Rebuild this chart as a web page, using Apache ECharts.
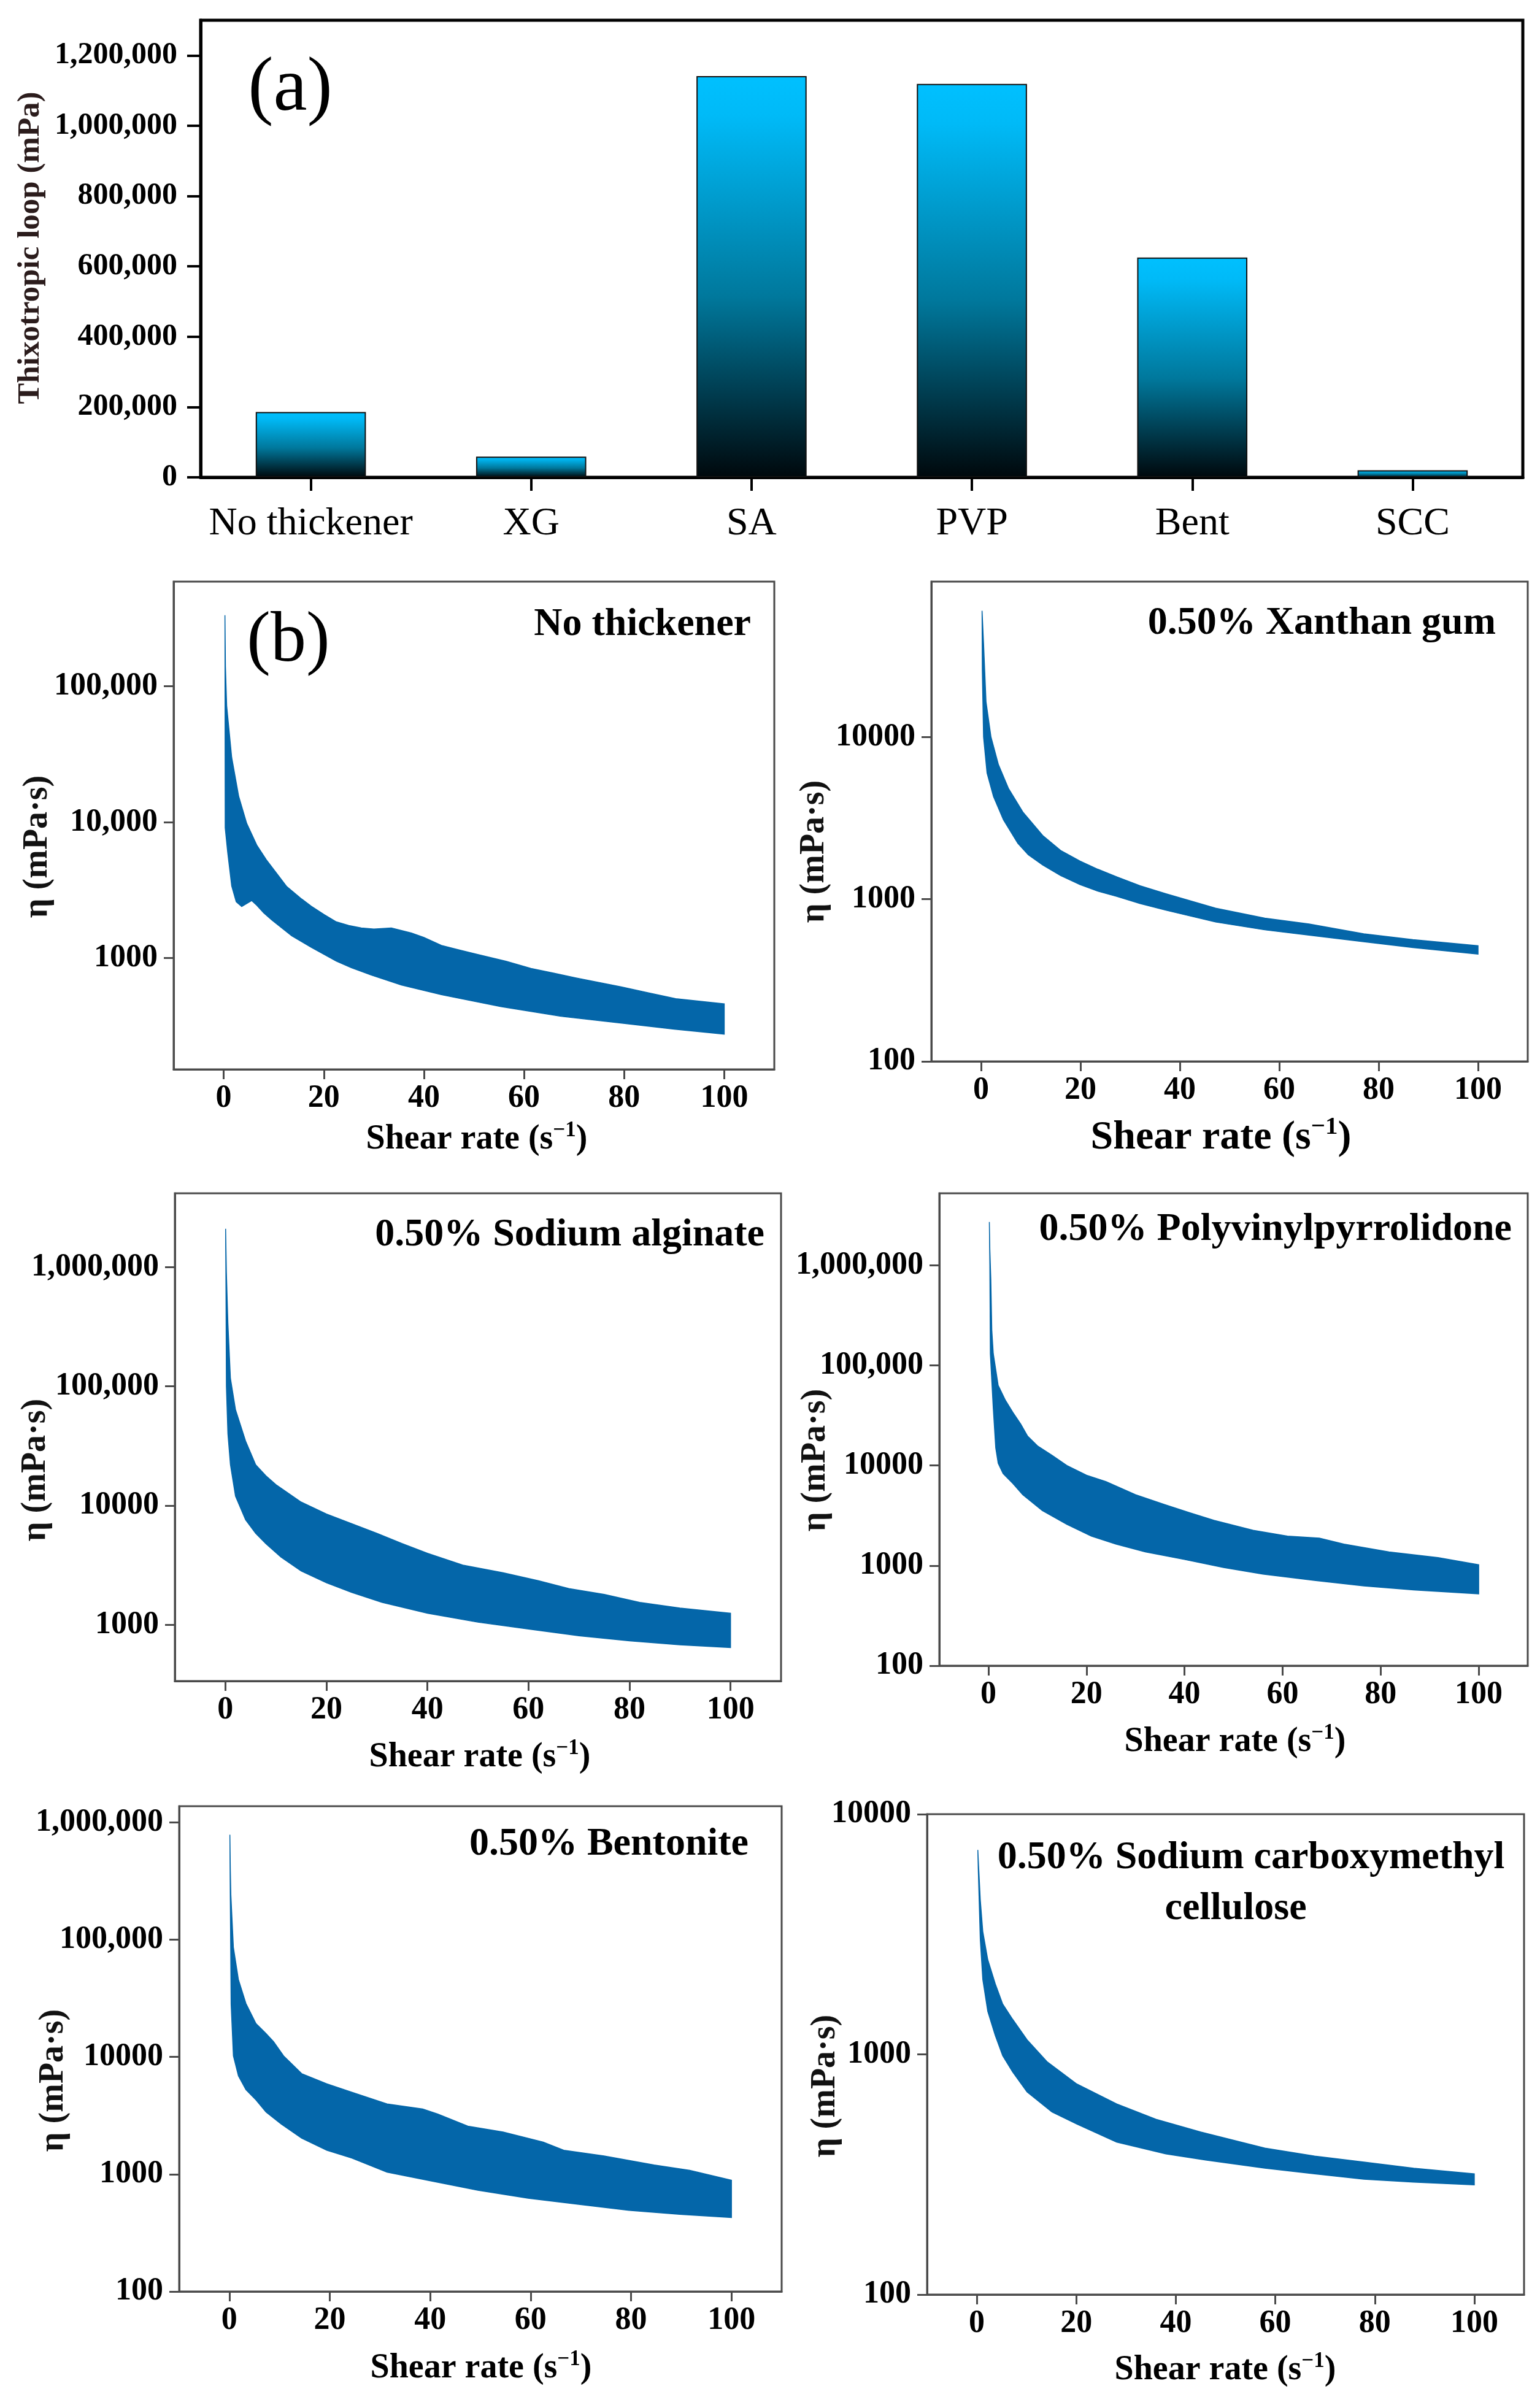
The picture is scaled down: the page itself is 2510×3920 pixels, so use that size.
<!DOCTYPE html>
<html>
<head>
<meta charset="utf-8">
<script src="https://cdn.jsdelivr.net/npm/echarts@6/dist/echarts.min.js"></script>
<style>
html,body{margin:0;padding:0;background:#fff;}
#chart{width:2510px;height:3920px;}
</style>
</head>
<body>
<div id="chart"></div>
<script>
// ---------------- DATA ----------------
// Panel (a): thixotropic loop area
const categories = ['No thickener', 'XG', 'SA', 'PVP', 'Bent', 'SCC'];
const loopValues = [186000, 59000, 1141000, 1119000, 625000, 20000];
const loopTicks = [0, 200000, 400000, 600000, 800000, 1000000, 1200000];

// Panel (b): shear rate ticks
const shearTicks = [0, 20, 40, 60, 80, 100];

// No thickener: upward curve [shear rate, eta] and downward curve (from 100 back to 0)
const noThickUp = [[0.25,333000],[0.35,140000],[0.6,72000],[1.6,30000],[3,15500],[4.6,9800],[6.6,6800],[8.5,5300],[10.6,4200],[12.6,3360],[15.6,2720],[17.5,2410],[20,2100],[22.5,1850],[25,1740],[27.5,1670],[30,1640],[33.5,1670],[37.5,1530],[40,1420],[43.5,1240],[47,1150],[50.5,1070],[56.4,950],[61.4,840],[66,775],[70.4,716],[79.4,615],[85,555],[90.3,503],[100,461]];
const noThickDown = [[100,276],[90,300],[80.4,330],[67.4,373],[55.4,440],[43.5,538],[35.5,635],[29.5,750],[25.5,850],[22.5,950],[17.5,1200],[13.6,1460],[11.6,1670],[9.6,1910],[8,2150],[6.6,2450],[5.6,2650],[3.6,2400],[2.5,2600],[1.6,3400],[0.8,6000],[0.3,9100]];
const noThickTicks = [1000, 10000, 100000];
const noThickTickLabels = ['1000', '10,000', '100,000'];

// 0.50% Xanthan gum
const xgUp = [[0.2,60000],[0.5,38000],[1,16500],[2,10000],[3.5,6750],[5.5,4830],[8.4,3450],[12.4,2470],[16,2000],[19.9,1720],[23.5,1530],[27.3,1375],[32,1210],[37.2,1080],[47.2,880],[57.1,765],[66,703],[77,612],[86.9,563],[100,517]];
const xgDown = [[100,458],[86.9,503],[77,547],[67,595],[57.1,647],[47.2,723],[37.2,855],[32,940],[27.3,1040],[23.5,1120],[19.9,1230],[16,1400],[12.4,1625],[9.5,1880],[7.4,2210],[4.5,3090],[2.5,4300],[1.2,6000],[0.5,10000],[0.25,25700]];
const xgTicks = [100, 1000, 10000];
const xgTickLabels = ['100', '1000', '10000'];

// 0.50% Sodium alginate
const saUp = [[0.05,2100000],[0.2,910000],[0.5,340000],[1,117000],[2,64000],[4,34800],[6,22000],[8,17800],[10,15000],[15,10700],[20,8500],[25,7050],[30,5850],[35,4800],[40,3980],[47,3170],[55,2730],[62,2340],[68,2010],[75,1800],[82,1540],[90,1380],[100,1250]];
const saDown = [[100,644],[90,678],[80,732],[70,808],[60,920],[50,1050],[40,1250],[31,1540],[25,1870],[20,2250],[15,2830],[11,3700],[8,4800],[6,5850],[4,7600],[2,12000],[1,22000],[0.5,40000],[0.2,100000],[0.12,600000]];
const saTicks = [1000, 10000, 100000, 1000000];
const saTickLabels = ['1000', '10000', '100,000', '1,000,000'];

// 0.50% Polyvinylpyrrolidone
const pvpUp = [[0.2,2700000],[0.3,1440000],[0.5,725000],[0.7,225000],[1,131000],[2,63000],[3.5,44500],[5,33800],[6.6,25900],[8,19600],[10,15700],[13,12600],[16,10000],[20,8000],[24,6900],[30,5100],[36,4060],[41,3380],[46,2830],[54,2250],[61,1970],[67.5,1880],[72.5,1640],[81.7,1370],[91.7,1200],[100,1020]];
const pvpDown = [[100,522],[86.7,571],[76.6,625],[66.5,710],[56,820],[48,956],[40,1150],[32,1370],[26,1640],[21,1970],[16,2580],[11,3540],[7,5100],[5,6600],[3,8300],[2,10500],[1.5,15000],[1,37000],[0.4,130000],[0.3,1000000]];
const pvpTicks = [100, 1000, 10000, 100000, 1000000];
const pvpTickLabels = ['100', '1000', '10000', '100,000', '1,000,000'];

// 0.50% Bentonite
const bentUp = [[0.1,783000],[0.2,385000],[0.3,240000],[0.8,86000],[1.8,45700],[3.3,28500],[5.3,19200],[7.3,15800],[8.8,13500],[10.8,10200],[14.4,7200],[19.4,5900],[24.4,5000],[31.4,3970],[38.5,3600],[41.5,3260],[47.5,2570],[54.5,2290],[62.5,1880],[66.6,1600],[74.6,1430],[84.6,1200],[91.7,1080],[100,888]];
const bentDown = [[100,427],[89.7,454],[79.6,492],[69.6,553],[59.5,624],[49.5,730],[39.5,888],[31.4,1040],[24.4,1370],[19.4,1600],[14.4,2030],[10.3,2680],[7.3,3390],[5.3,4300],[3.3,5250],[1.8,6900],[0.8,10200],[0.35,28000],[0.15,350000]];
const bentTicks = [100, 1000, 10000, 100000, 1000000];
const bentTickLabels = ['100', '1000', '10000', '100,000', '1,000,000'];

// 0.50% Sodium carboxymethyl cellulose
const sccUp = [[0.2,7100],[0.7,4400],[1.2,3250],[2.2,2480],[3.7,1970],[5.2,1620],[7.2,1400],[10.1,1150],[14.1,933],[20.1,753],[28.1,622],[36,537],[45,475],[57.9,407],[67.9,377],[77.8,356],[87.8,336],[100,318]];
const sccDown = [[100,286],[87.8,294],[77.8,302],[67.9,318],[57.9,336],[46,363],[38,385],[28.1,431],[20.1,513],[15.1,576],[10.1,698],[7.2,845],[5.2,987],[3.7,1200],[2.2,1510],[1.2,2050],[0.7,3000],[0.3,5800]];
const sccTicks = [100, 1000, 10000];
const sccTickLabels = ['100', '1000', '10000'];

// ---------------- STYLE / LAYOUT ----------------
const SERIF = '"Liberation Serif","Times New Roman",Times,serif';
const BAND = '#0466A9';
const FRAME = '#4a4a4a';

const panels = [
  {up: noThickUp, down: noThickDown, ticks: noThickTicks, labels: noThickTickLabels, min: 152, max: 589000,
   grid: {left: 283, top: 948, width: 979, height: 795}, title: 'No thickener', tx: 1224, ty: 1018,
   yname: [62, 1380], xname: [777, 1858], xfs: 56},
  {up: xgUp, down: xgDown, ticks: xgTicks, labels: xgTickLabels, min: 100, max: 90800,
   grid: {left: 1518, top: 948, width: 972, height: 782}, title: '0.50% Xanthan gum', tx: 2438, ty: 1016,
   yname: [1328, 1388], xname: [1990, 1855], xfs: 66},
  {up: saUp, down: saDown, ticks: saTicks, labels: saTickLabels, min: 337, max: 4170000,
   grid: {left: 285, top: 1945, width: 988, height: 795}, title: '0.50% Sodium alginate', tx: 1246, ty: 2013,
   yname: [59, 2396], xname: [782, 2865], xfs: 56},
  {up: pvpUp, down: pvpDown, ticks: pvpTicks, labels: pvpTickLabels, min: 100, max: 5220000,
   grid: {left: 1531, top: 1945, width: 959, height: 770}, title: '0.50% Polyvinylpyrrolidone', tx: 2464, ty: 2004,
   yname: [1330, 2380], xname: [2013, 2840], xfs: 56},
  {up: bentUp, down: bentDown, ticks: bentTicks, labels: bentTickLabels, min: 100, max: 1370000,
   grid: {left: 292, top: 2944, width: 982, height: 791}, title: '0.50% Bentonite', tx: 1220, ty: 3006,
   yname: [88, 3391], xname: [784, 3861], xfs: 56},
  {up: sccUp, down: sccDown, ticks: sccTicks, labels: sccTickLabels, min: 100, max: 10000,
   grid: {left: 1511, top: 2957, width: 973, height: 783}, title: null, tx: 0, ty: 0,
   yname: [1346, 3400], xname: [1997, 3864], xfs: 56}
];

// ---------------- OPTION ----------------
const grids = [{left: 327, top: 33, width: 2155, height: 745, show: true, borderColor: '#000', borderWidth: 5}];
const xAxes = [{
  type: 'category', gridIndex: 0, data: categories,
  axisLine: {show: true, lineStyle: {color: '#000', width: 5}},
  axisTick: {show: true, alignWithLabel: true, length: 22, lineStyle: {color: '#000', width: 4}},
  axisLabel: {fontFamily: SERIF, fontSize: 64, color: '#000', margin: 44, interval: 0},
  splitLine: {show: false}
}];
const yAxes = [{
  type: 'value', gridIndex: 0, min: 0, max: 1300000, interval: 200000,
  axisLine: {show: true, lineStyle: {color: '#000', width: 5}},
  axisTick: {show: true, length: 22, lineStyle: {color: '#000', width: 4}, customValues: loopTicks},
  axisLabel: {fontFamily: SERIF, fontSize: 50, fontWeight: 'bold', color: '#000', margin: 38,
    customValues: loopTicks, formatter: v => Number(v).toLocaleString('en-US')},
  splitLine: {show: false}
}];
const series = [{
  type: 'bar', xAxisIndex: 0, yAxisIndex: 0, data: loopValues, barWidth: '50%',
  itemStyle: {
    borderColor: '#111', borderWidth: 2,
    color: new echarts.graphic.LinearGradient(0, 0, 0, 1, [
      {offset: 0, color: '#00C0FF'},
      {offset: 0.1, color: '#00BAF7'},
      {offset: 0.55, color: '#00789C'},
      {offset: 1, color: '#00080C'}
    ])
  }
}];

const graphics = [
  {type: 'text', x: 473, y: 146, style: {text: '(a)', font: '124px ' + SERIF, fill: '#000', textAlign: 'center', textVerticalAlign: 'middle'}},
  {type: 'text', x: 470, y: 1047, style: {text: '(b)', font: '116px ' + SERIF, fill: '#000', textAlign: 'center', textVerticalAlign: 'middle'}},
  {type: 'text', x: 50, y: 404, rotation: Math.PI / 2, style: {text: 'Thixotropic loop (mPa)', font: 'bold 51px ' + SERIF, fill: '#2b1c1c', textAlign: 'center', textVerticalAlign: 'middle'}}
];

panels.forEach((p, k) => {
  const gi = k + 1;
  grids.push(Object.assign({show: true, borderColor: FRAME, borderWidth: 3}, p.grid));
  xAxes.push({
    type: 'value', gridIndex: gi, min: -10, max: 110,
    axisLine: {show: true, onZero: false, lineStyle: {color: FRAME, width: 3}},
    axisTick: {show: true, length: 16, lineStyle: {color: FRAME, width: 3}, customValues: shearTicks},
    axisLabel: {fontFamily: SERIF, fontSize: 52, fontWeight: 'bold', color: '#000', margin: 22, customValues: shearTicks},
    splitLine: {show: false}
  });
  yAxes.push({
    type: 'log', logBase: 10, gridIndex: gi, min: p.min, max: p.max,
    axisLine: {show: true, onZero: false, lineStyle: {color: FRAME, width: 3}},
    axisTick: {show: true, length: 16, lineStyle: {color: FRAME, width: 3}, customValues: p.ticks},
    axisLabel: {fontFamily: SERIF, fontSize: 52, fontWeight: 'bold', color: '#000', margin: 26, customValues: p.ticks,
      formatter: v => {
        const i = p.ticks.findIndex(t => Math.abs(t - v) / t < 1e-6);
        return i >= 0 ? p.labels[i] : '';
      }},
    splitLine: {show: false}, minorTick: {show: false}
  });
  const poly = p.up.concat(p.down);
  series.push({
    type: 'custom', xAxisIndex: gi, yAxisIndex: gi, data: poly, silent: true,
    renderItem: (params, api) => {
      if (params.dataIndex !== 0) return null;
      const pts = poly.map(pt => api.coord(pt));
      return {type: 'polygon', shape: {points: pts}, style: {fill: BAND, stroke: BAND, lineWidth: 1.5}};
    }
  });
  if (p.title) {
    graphics.push({type: 'text', x: p.tx, y: p.ty, style: {text: p.title, font: 'bold 64px ' + SERIF, fill: '#000', textAlign: 'right', textVerticalAlign: 'middle'}});
  }
  graphics.push({type: 'text', x: p.yname[0], y: p.yname[1], rotation: Math.PI / 2,
    style: {text: 'η (mPa·s)', font: 'bold 56px ' + SERIF, fill: '#111', textAlign: 'center', textVerticalAlign: 'middle'}});
  const fs = p.xfs, sfs = Math.round(p.xfs * 0.62);
  graphics.push({type: 'text', x: p.xname[0], y: p.xname[1],
    style: {
      text: '{a|Shear rate (s}{s|−1}{a|)}', textAlign: 'center', textVerticalAlign: 'middle',
      rich: {
        a: {fontFamily: SERIF, fontSize: fs, fontWeight: 'bold', fill: '#000', color: '#000'},
        s: {fontFamily: SERIF, fontSize: sfs, fontWeight: 'bold', fill: '#000', color: '#000', padding: [0, 0, Math.round(fs * 0.55), 0]}
      }
    }});
});
// SCC two-line title
graphics.push({type: 'text', x: 2039, y: 3028, style: {text: '0.50% Sodium carboxymethyl', font: 'bold 64px ' + SERIF, fill: '#000', textAlign: 'center', textVerticalAlign: 'middle'}});
graphics.push({type: 'text', x: 2014, y: 3111, style: {text: 'cellulose', font: 'bold 64px ' + SERIF, fill: '#000', textAlign: 'center', textVerticalAlign: 'middle'}});

const chart = echarts.init(document.getElementById('chart'), null, {renderer: 'canvas', width: 2510, height: 3920});
chart.setOption({
  backgroundColor: '#fff',
  animation: false,
  grid: grids,
  xAxis: xAxes,
  yAxis: yAxes,
  series: series,
  graphic: graphics
});
</script>
</body>
</html>
